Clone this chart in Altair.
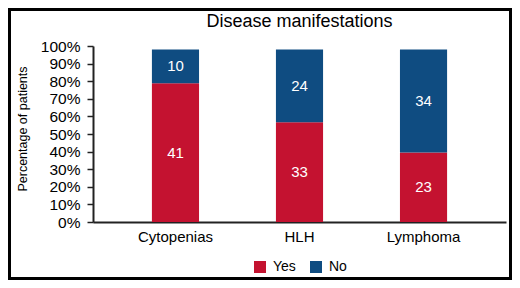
import altair as alt
import pandas as pd

categories = ["Cytopenias", "HLH", "Lymphoma"]
responses = ["Yes", "No"]
yes_counts = [41, 33, 23]
no_counts = [10, 24, 34]
bar_top = 0.98  # bars stop just below 100% in the reference
colors = ["#C41230", "#0F4C81"]
y_ticks = [0, 0.1, 0.2, 0.3, 0.4, 0.5, 0.6, 0.7, 0.8, 0.9, 1.0]
title_text = "Disease manifestations"

rows = []
for c, y, n in zip(categories, yes_counts, no_counts):
    total = y + n
    rows.append({"category": c, "response": "Yes", "count": y, "share": y / total * bar_top, "ord": 0})
    rows.append({"category": c, "response": "No", "count": n, "share": n / total * bar_top, "ord": 1})
df = pd.DataFrame(rows)

FONT = "Liberation Sans"
NARROW = "'Liberation Sans Narrow', 'Liberation Sans'"

x_scale = alt.Scale(paddingInner=0.62, paddingOuter=0.475)
y_scale = alt.Scale(domain=[0, 1])

x_axis = alt.Axis(
    title=None, labelAngle=0, ticks=False, labelFontSize=15, labelPadding=7,
    labelColor="black", labelFont=FONT, domainColor="#222", domainWidth=2,
)
y_axis = alt.Axis(
    title="Percentage of patients", format="%", values=y_ticks, grid=False,
    labelOverlap=False,
    labelFontSize=15.5, labelColor="black", labelFont=FONT, labelPadding=7,
    tickSize=6, tickWidth=1.5, tickColor="#222", domainColor="#222", domainWidth=2,
    titleFont=NARROW, titleFontSize=12.5, titleFontWeight="normal", titleColor="black",
    titleX=-67, titleY=82.5, titleAlign="center", titleBaseline="alphabetic", titleAngle=-90,
)

base = alt.Chart(df)

bars = base.mark_bar().encode(
    x=alt.X("category:N", sort=categories, scale=x_scale, axis=x_axis),
    y=alt.Y("share:Q", stack="zero", scale=y_scale, axis=y_axis),
    color=alt.Color(
        "response:N",
        scale=alt.Scale(domain=responses, range=colors),
        legend=alt.Legend(
            title=None, orient="none", legendX=160, legendY=214, direction="horizontal",
            symbolType="square", symbolSize=144, symbolStrokeWidth=0, labelFontSize=14,
            labelFont=FONT, labelColor="black", labelOffset=6, columnPadding=13, padding=0,
        ),
    ),
    order=alt.Order("ord:Q"),
)

labels = (
    base.transform_stack(stack="share", as_=["y0", "y1"], groupby=["category"], sort=[alt.SortField("ord")])
    .transform_calculate(mid="(datum.y0 + datum.y1) / 2")
    .mark_text(color="white", fontSize=15, baseline="middle", font=FONT)
    .encode(
        x=alt.X("category:N", sort=categories, scale=x_scale, axis=x_axis),
        y=alt.Y("mid:Q", scale=y_scale, axis=y_axis),
        text="count:Q",
    )
)

frame = alt.Chart(alt.Data(values=[{}])).mark_rect(
    fillOpacity=0, stroke="black", strokeWidth=3
).encode(
    x=alt.value(-83.5), x2=alt.value(417.5), y=alt.value(-36.5), y2=alt.value(232.5)
)

title = alt.Chart(alt.Data(values=[{}])).mark_text(
    fontSize=18, font=FONT, color="black", align="center", baseline="alphabetic"
).encode(
    x=alt.value(206.5), y=alt.value(-18.7), text=alt.value(title_text)
)

chart = (
    alt.layer(bars, labels, frame, title)
    .properties(
        width=413,
        height=176,
        padding={"left": 85, "top": 38, "right": 6, "bottom": 58},
        autosize=alt.AutoSizeParams(type="none"),
        background="white",
    )
    .configure_view(stroke=None)
)

chart.save("out.html", embed_options={"renderer": "svg", "actions": False})
